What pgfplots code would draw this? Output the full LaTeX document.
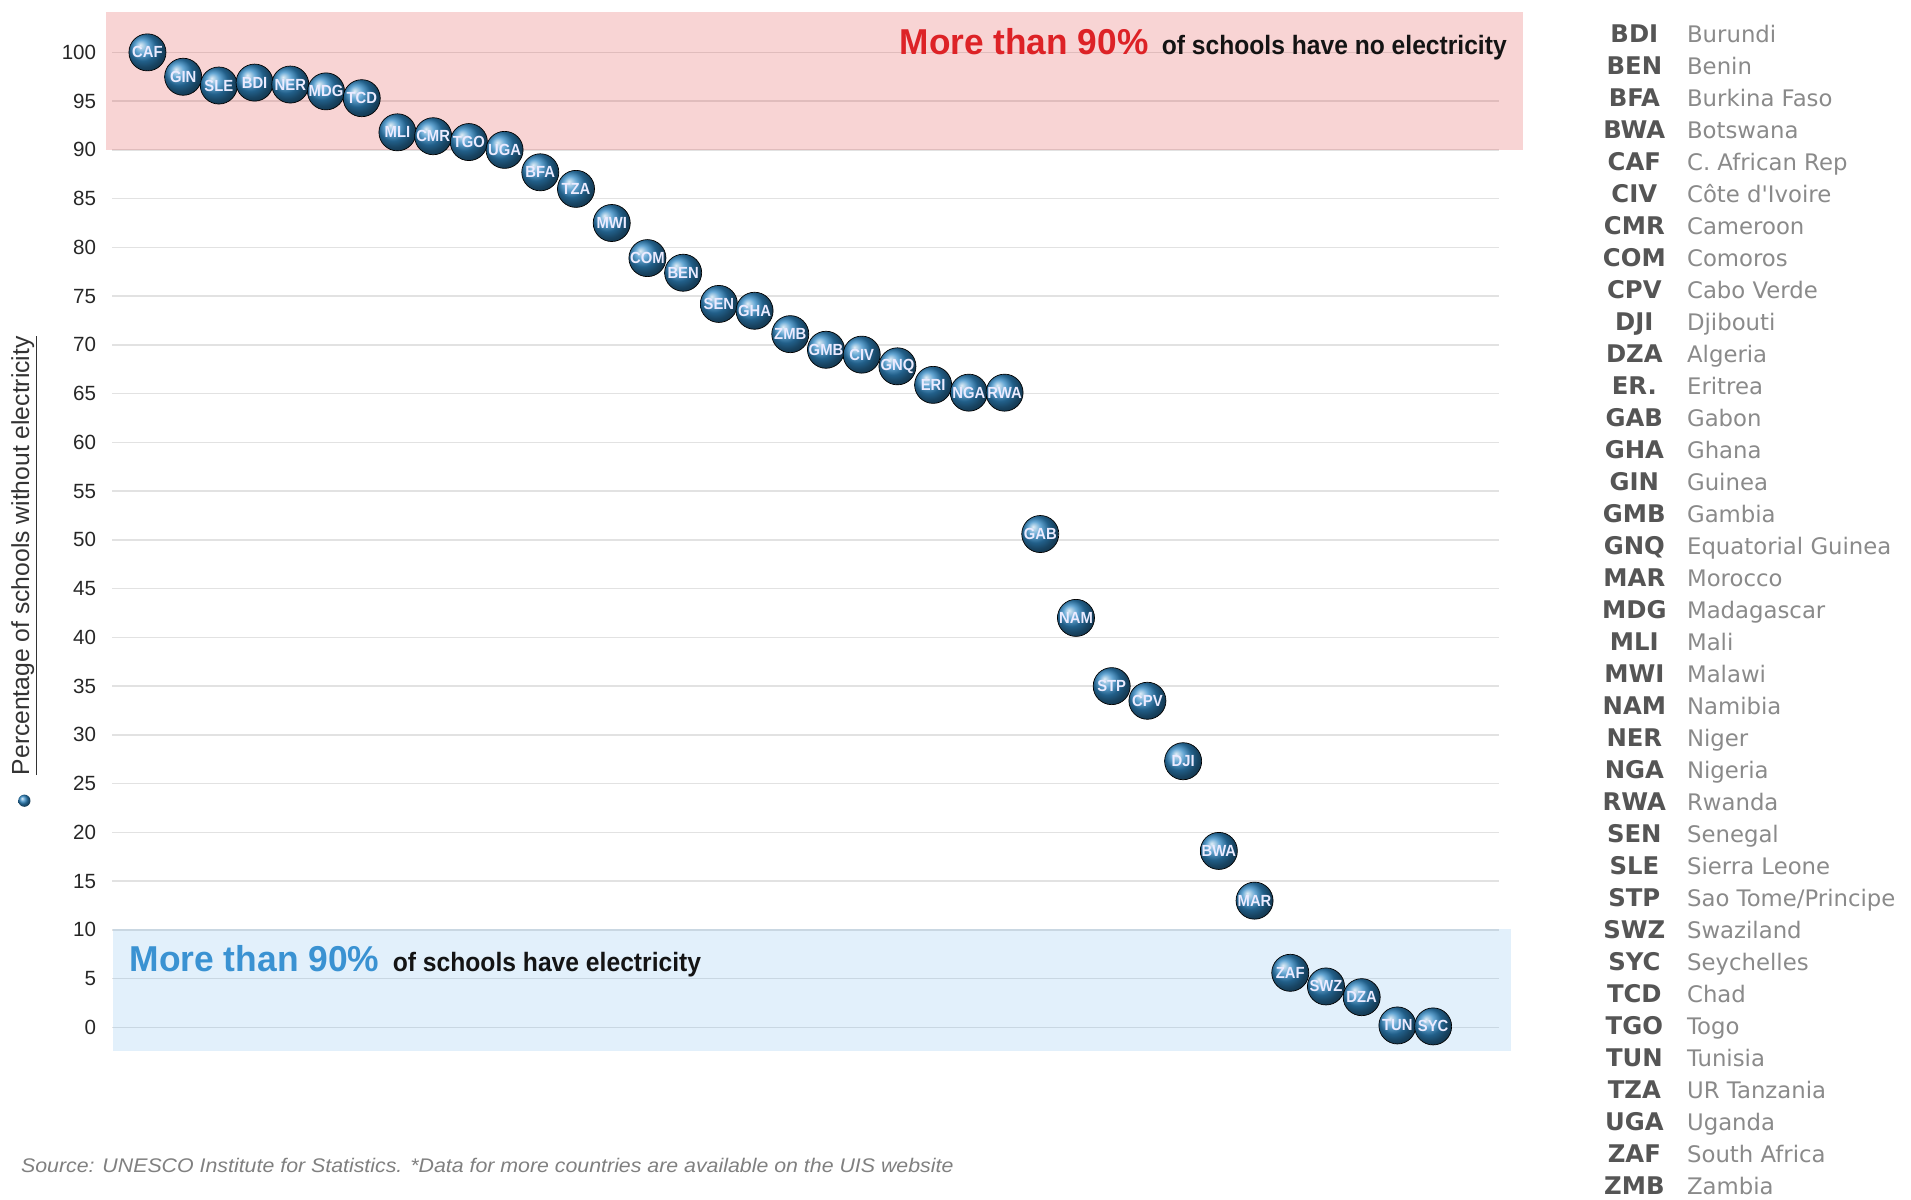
\documentclass[border=0pt]{standalone}
\usepackage{pgfplots}
\pgfplotsset{compat=1.18}
\usepackage{graphicx}
\usepackage{fontspec}
\setmainfont{Liberation Sans}
\newfontfamily\dejavu{DejaVu Sans}
\definecolor{pinkov}{RGB}{220,40,40}
\definecolor{blueov}{RGB}{50,150,230}
\definecolor{ballc}{RGB}{48,136,196}
\definecolor{redtxt}{RGB}{221,34,38}
\definecolor{bluetxt}{RGB}{58,146,210}
\definecolor{gridc}{RGB}{226,226,226}
\definecolor{codec}{RGB}{85,85,85}
\definecolor{namec}{RGB}{138,138,138}
\definecolor{srcc}{RGB}{128,128,128}
\begin{document}
\begin{tikzpicture}[x=0.25mm,y=0.25mm]
\path[use as bounding box] (0,0) rectangle (1568,984);
\coordinate (AX) at (87,122);
\begin{axis}[
  at={(AX)}, anchor=south west,
  scale only axis, width=290.75mm, height=213mm,
  xmin=-1.16, xmax=38.53, ymin=-2.375, ymax=104.125,
  axis line style={draw=none}, tick style={draw=none},
  xtick=\empty, ytick={0,5,...,100},
  yticklabel style={font=\fontsize{12}{12}\selectfont, text=black!85, anchor=east, xshift=-0.8mm},
  /pgf/number format/assume math mode=true,
  clip=false,
  point meta=explicit symbolic,
]
\pgfplotsinvokeforeach{0,5,...,100}{
  \draw[gridc, line width=0.8pt] (axis cs:-0.99,#1) -- (axis cs:37.85,#1);
}
\addplot[only marks, mark=ball, mark size=3.8mm, ball color=ballc, mark options={ball color=ballc},
  nodes near coords={\scalebox{0.92}[1]{\pgfplotspointmeta}},
  nodes near coords align={center},
  every node near coord/.append style={font=\fontsize{9.4}{9.4}\selectfont\bfseries, text=white!92!blue, anchor=center, inner sep=0pt},
] table[x=i, y=v, meta=lab] {
i v lab
0 100 CAF
1 97.5 GIN
2 96.6 SLE
3 96.9 BDI
4 96.7 NER
5 96.0 MDG
6 95.3 TCD
7 91.8 MLI
8 91.4 CMR
9 90.8 TGO
10 90.0 UGA
11 87.7 BFA
12 86.0 TZA
13 82.5 MWI
14 78.9 COM
15 77.4 BEN
16 74.2 SEN
17 73.5 GHA
18 71.1 ZMB
19 69.5 GMB
20 69.0 CIV
21 67.8 GNQ
22 65.9 ERI
23 65.1 NGA
24 65.1 RWA
25 50.6 GAB
26 42.0 NAM
27 35.0 STP
28 33.5 CPV
29 27.3 DJI
30 18.1 BWA
31 13.0 MAR
32 5.6 ZAF
33 4.2 SWZ
34 3.1 DZA
35 0.2 TUN
36 0.1 SYC
};
\fill[pinkov, fill opacity=0.2] (axis cs:-1.16,90) rectangle (axis cs:38.53,104.125);
\fill[blueov, fill opacity=0.14] (axis cs:-0.96,-2.375) rectangle (axis cs:38.19,10.1);
\end{axis}
% band texts
\node[anchor=base west, inner sep=0] at (738,939) {\resizebox{51mm}{\height}{\fontsize{21}{21}\selectfont\bfseries\color{redtxt}More than 90\%}};
\node[anchor=base west, inner sep=0] at (953,939) {\resizebox{70.75mm}{\height}{\fontsize{15.5}{15.5}\selectfont\bfseries\color{black!92}of schools have no electricity}};
\node[anchor=base west, inner sep=0] at (106,187) {\resizebox{51.25mm}{\height}{\fontsize{21}{21}\selectfont\bfseries\color{bluetxt}More than 90\%}};
\node[anchor=base west, inner sep=0] at (322,187) {\resizebox{63.25mm}{\height}{\fontsize{15.5}{15.5}\selectfont\bfseries\color{black!92}of schools have electricity}};
% y label
\node[rotate=90, inner sep=0, text=black!80] at (20,528) {\fontsize{14.4}{14.4}\selectfont\underline{Percentage of schools without electricity}};
\shade[ball color=ballc] (20,327) circle (5);
% source
\node[anchor=base west, inner sep=0, text=srcc] at (17,22) {\resizebox{191.25mm}{\height}{\fontsize{11.5}{11.5}\selectfont\itshape Source: UNESCO Institute for Statistics. *Data for more countries are available on the UIS website}};
% legend
\foreach \c/\n [count=\i from 0] in {BDI/Burundi, BEN/Benin, BFA/Burkina Faso, BWA/Botswana, CAF/C. African Rep, CIV/Côte d'Ivoire, CMR/Cameroon, COM/Comoros, CPV/Cabo Verde, DJI/Djibouti, DZA/Algeria, ER./Eritrea, GAB/Gabon, GHA/Ghana, GIN/Guinea, GMB/Gambia, GNQ/Equatorial Guinea, MAR/Morocco, MDG/Madagascar, MLI/Mali, MWI/Malawi, NAM/Namibia, NER/Niger, NGA/Nigeria, RWA/Rwanda, SEN/Senegal, SLE/Sierra Leone, STP/{Sao Tome/Principe}, SWZ/Swaziland, SYC/Seychelles, TCD/Chad, TGO/Togo, TUN/Tunisia, TZA/UR Tanzania, UGA/Uganda, ZAF/South Africa, ZMB/Zambia} {
  \pgfmathsetmacro{\yy}{984-28-26.25*\i-7}
  \node[anchor=base, inner sep=0, text=codec, font=\dejavu\bfseries\fontsize{14.2}{14.2}\selectfont] at (1341,\yy) {\c};
  \node[anchor=base west, inner sep=0, text=namec, font=\dejavu\fontsize{13.3}{13.3}\selectfont] at (1384,\yy) {\n};
}
\end{tikzpicture}
\end{document}
